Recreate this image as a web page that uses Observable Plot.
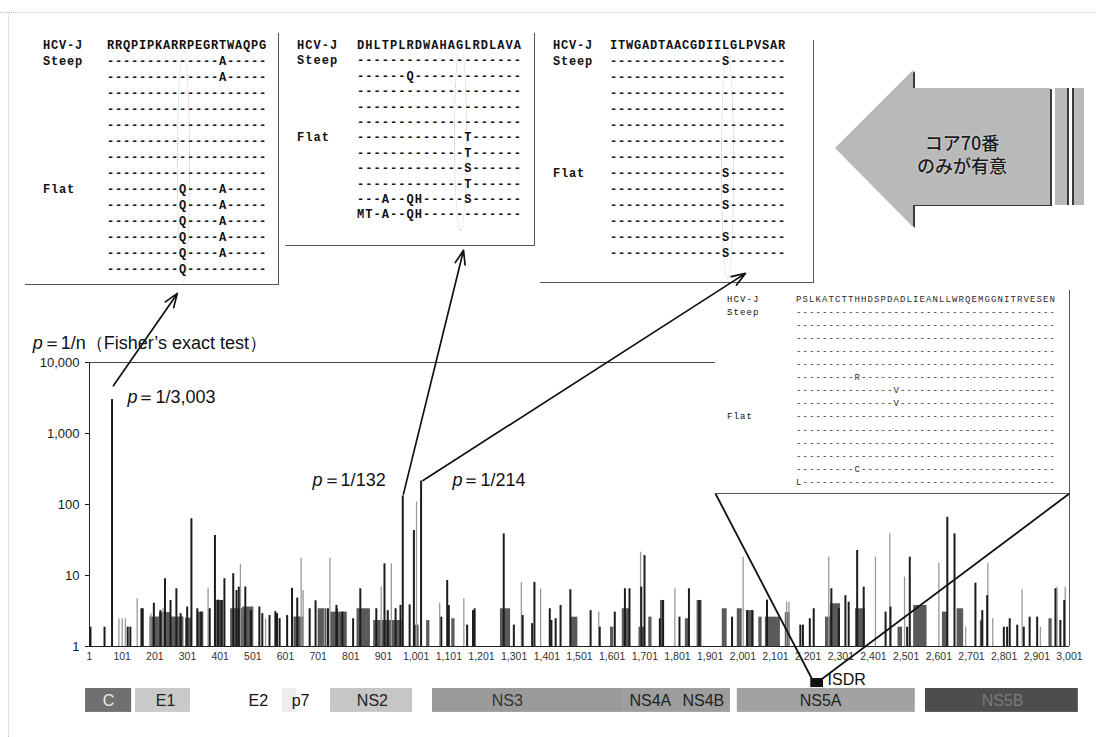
<!DOCTYPE html>
<html><head><meta charset="utf-8">
<script src="https://cdn.jsdelivr.net/npm/d3@7"></script>
<script src="https://cdn.jsdelivr.net/npm/@observablehq/plot@0.6"></script>
<style>
body{margin:0;background:#fff;}
#wrap{position:relative;width:1096px;height:737px;overflow:hidden;background:#fff;font-family:"Liberation Sans",Arial,sans-serif;}
#wrap > svg{position:absolute;left:0;top:0;z-index:3;}
.ln{position:absolute;background:#555;z-index:1;}
.aln{position:absolute;font-family:"Liberation Mono","DejaVu Sans Mono",monospace;white-space:pre;z-index:1;color:#111;}
.hl{position:absolute;border:1px dotted #bdbdbd;border-radius:50%;z-index:0;}
#bigArrowWrap{position:absolute;left:835px;top:70px;width:215px;height:157px;filter:drop-shadow(2px 1px 0 #3a3a3a);z-index:1;}
#bigArrow{width:100%;height:100%;background:#b9b9b9;clip-path:polygon(0 78px,78px 0,78px 18px,215px 18px,215px 135px,78px 135px,78px 157px);}
.strip{position:absolute;top:88px;height:117px;background:#b9b9b9;z-index:1;}
.arrowText{position:absolute;left:880px;width:164px;line-height:23px;white-space:pre-line;text-align:center;font-family:"Noto Sans CJK JP",sans-serif;font-size:18px;font-weight:500;color:#1a1a1a;z-index:2;text-shadow:0 0 2px #eee;}
</style></head>
<body><div id="wrap"></div>
<script>
// ---------------- data ----------------
// isolated dark bars: [amino-acid position, n  (p = 1/n)]
const darkBars = [[4,1.87],[47,1.87],[70,3003],[118,1.87],[126,1.87],[160,3.4],[164,3.4],[198,4.07],[218,3.2],[232,9.0],[249,4.45],[267,6.5],[280,2.9],[300,3.6],[313,63],[331,3.4],[343,3.05],[369,3.4],[385,36.6],[395,4.5],[405,4.45],[414,9.0],[441,10.6],[451,6.15],[458,6.85],[478,6.9],[495,3.2],[521,3.6],[530,2.9],[552,2.73],[570,3.1],[575,2.9],[583,2.46],[606,2.73],[621,6.6],[637,4.8],[675,3.4],[693,4.4],[731,3.4],[757,3.8],[758,3.4],[775,3.05],[808,2.46],[830,6.5],[879,3.4],[904,14.6],[914,3.2],[938,3.4],[953,3.8],[960,132],[981,3.85],[994,43],[1016,214],[1078,2.59],[1096,8.5],[1101,3.78],[1157,2.0],[1175,3.2],[1180,3.4],[1269,38.6],[1300,2.0],[1327,2.73],[1356,2.1],[1363,8.0],[1410,3.4],[1415,2.32],[1428,2.46],[1443,3.78],[1473,6.3],[1535,3.2],[1563,1.87],[1609,3.05],[1640,6.5],[1654,6.5],[1690,6.85],[1700,19.1],[1747,2.46],[1757,4.45],[1807,2.59],[1836,6.5],[1868,4.45],[1968,2.59],[2014,3.2],[2030,3.2],[2075,4.5],[2177,2.0],[2185,2.0],[2206,2.46],[2218,3.4],[2272,6.5],[2295,3.4],[2315,5.2],[2325,4.2],[2351,22.5],[2371,6.85],[2438,3.05],[2453,3.58],[2504,1.87],[2512,18.1],[2627,66],[2649,38.6],[2713,7.8],[2734,3.2],[2749,5.2],[2800,1.87],[2810,1.87],[2818,2.46],[2841,2.0],[2861,1.87],[2879,2.59],[2902,2.59],[2958,6.5],[2973,2.32],[2985,4.45]];
// light grey bars
const lightBars = [[91,2.46],[101,2.46],[111,2.46],[147,4.69],[189,2.9],[226,3.4],[364,6.6],[463,14.3],[540,2.46],[649,17.5],[655,6.15],[720,3.4],[737,17.5],[894,6.9],[925,14.6],[1002,108],[1073,4.07],[1147,4.69],[1323,8.0],[1382,6.4],[1560,3.05],[1688,21.3],[1793,6.5],[2002,18.1],[2135,4.2],[2142,4.2],[2264,18.1],[2407,18.1],[2451,38.6],[2496,9.5],[2601,14.9],[2683,1.87],[2751,14.9],[2766,2.46],[2856,6.3],[2912,1.87],[2963,6.85],[2988,6.85]];
// dense runs of low bars: [from, to, typical n]
const clusters = [[186,215,2.6],[215,250,3.0],[250,290,2.6],[295,315,2.5],[331,351,3.05],[387,412,4.45],[433,470,3.4],[470,504,3.6],[627,657,2.6],[701,728,3.4],[739,790,3.05],[820,861,3.4],[871,958,2.32],[995,1010,2.0],[1033,1043,2.32],[1110,1120,2.46],[1259,1290,3.4],[1476,1496,2.59],[1596,1606,1.87],[1632,1655,3.4],[1683,1700,1.87],[1713,1723,2.59],[1749,1759,4.45],[1825,1839,2.46],[1861,1876,4.45],[1938,1953,3.4],[1984,1999,3.4],[2014,2035,3.2],[2050,2060,2.59],[2070,2116,2.59],[2131,2146,3.0],[2254,2279,2.59],[2269,2300,4.0],[2346,2376,3.4],[2476,2490,1.87],[2524,2565,3.78],[2612,2628,3.05],[2657,2677,3.4],[2728,2738,2.3],[2938,2948,2.46]];

const xTicks = d3.range(1, 3002, 100);
const yTicks = [1, 10, 100, 1000, 10000];

// p-value annotations (data units)
const pLabels = [
  {x: -173, y: 18500, rest: "＝1/n（Fisher’s exact test）"},
  {x: 117, y: 3210, rest: "＝1/3,003"},
  {x: 684, y: 218, rest: "＝1/132"},
  {x: 1112, y: 218, rest: "＝1/214"}
];
// arrows from significant bars to their alignment panels
const links = [
  {x1: 74, y1: 4700, x2: 270, y2: 94000},
  {x1: 962, y1: 140, x2: 1146, y2: 380000},
  {x1: 1022, y1: 218, x2: 2009, y2: 180000}
];
// genome map
const genomeBoxes = [["C",-11,130,"#707070"],["E1",142,310,"#c9c9c9"],["p7",592,635,"#ededed"],["NS2",739,990,"#c6c6c6"],["NS3",1051,1633,"#9a9a9a"],["NS4",1633,1963,"#9d9d9d"],["NS5A",1984,2529,"#a2a2a2"],["NS5B",2560,3028,"#4d4d4d"]];
const genomeLabels = [["C",59,"#ececec"],["E1",234,"#222"],["E2",518,"#111"],["p7",647,"#111"],["NS2",867,"#222"],["NS3",1280,"#333"],["NS4A",1718,"#222"],["NS4B",1880,"#222"],["NS5A",2239,"#222"],["NS5B",2796,"#7a7a7a"]];
const isdrRange = [2209, 2248];
const isdrLinks = [
  {x1: 2212, y1: 0.354, x2: 1917, y2: 143},
  {x1: 2245, y1: 0.354, x2: 3001, y2: 143}
];
const panelEdge = {left: 1917, top: 103000};

// alignments
const coreRows = [["HCV-J","RRQPIPKARRPEGRTWAQPG"],["Steep","--------------A-----"],["","--------------A-----"],["","--------------------"],["","--------------------"],["","--------------------"],["","--------------------"],["","--------------------"],["","--------------------"],["Flat","---------Q----A-----"],["","---------Q----A-----"],["","---------Q----A-----"],["","---------Q----A-----"],["","---------Q----A-----"],["","---------Q----------"]];
const e2Rows = [["HCV-J","DHLTPLRDWAHAGLRDLAVA"],["Steep","--------------------"],["","------Q-------------"],["","--------------------"],["","--------------------"],["","--------------------"],["Flat","-------------T------"],["","-------------T------"],["","-------------S------"],["","-------------T------"],["","---A--QH-----S------"],["","MT-A--QH------------"]];
const ns2Rows = [["HCV-J","ITWGADTAACGDIILGLPVSAR"],["Steep","--------------S-------"],["","----------------------"],["","----------------------"],["","----------------------"],["","----------------------"],["","----------------------"],["","----------------------"],["Flat","--------------S-------"],["","--------------S-------"],["","--------------S-------"],["","----------------------"],["","--------------S-------"],["","--------------S-------"]];
const D40 = "----------------------------------------";
const isdrRows = [["HCV-J","PSLKATCTTHHDSPDADLIEANLLWRQEMGGNITRVESEN"],["Steep",D40],["",D40],["",D40],["",D40],["",D40],["","---------R------------------------------"],["","---------------V------------------------"],["","---------------V------------------------"],["Flat",D40],["",D40],["",D40],["",D40],["","---------C------------------------------"],["","L---------------------------------------"]];
const calloutText = "コア70番\nのみが有意";

// ---------------- plot ----------------
const fmt = d3.format(",");
const chart = Plot.plot({
  width: 1096, height: 737,
  marginLeft: 89, marginRight: 27, marginTop: 362, marginBottom: 91,
  style: {background: "transparent", fontFamily: "Liberation Sans, Arial, sans-serif", fontSize: "10px", color: "#1a1a1a"},
  x: {domain: [1, 3001]},
  y: {type: "log", domain: [1, 10000]},
  marks: [
    Plot.rect(clusters, {x1: d => d[0], x2: d => d[1], y1: 1, y2: d => d[2], fill: "#5a5a5a"}),
    Plot.ruleX(lightBars, {x: d => d[0], y1: 1, y2: d => d[1], stroke: "#9a9a9a", strokeWidth: 1.3}),
    Plot.ruleX(darkBars, {x: d => d[0], y1: 1, y2: d => d[1], stroke: "#1c1c1c", strokeWidth: 2}),
    Plot.ruleY([1], {stroke: "#222"}),
    Plot.ruleX([1], {y1: 1, y2: 10000, stroke: "#222"}),
    Plot.ruleY([10000], {x1: 1, x2: panelEdge.left, stroke: "#444"}),
    Plot.ruleX([3001], {y1: 1, y2: panelEdge.top, stroke: "#555"}),
    Plot.axisY({ticks: yTicks, tickFormat: fmt, tickSize: 4, tickPadding: 6, fontSize: 13, label: null}),
    Plot.axisX({ticks: xTicks, tickFormat: fmt, tickSize: 0, tickPadding: 6, fontSize: 10.5, label: null, fill: "#333"}),
    // genome map
    Plot.rect(genomeBoxes, {x1: d => d[1], x2: d => d[2], y1: 0.118, y2: 0.256, fill: d => d[3]}),
    Plot.text(genomeLabels, {x: d => d[1], y: 0.172, text: d => d[0], fill: d => d[2], fontSize: 16}),
    Plot.rect([isdrRange], {x1: d => d[0], x2: d => d[1], y1: 0.264, y2: 0.354, fill: "#111"}),
    Plot.text(["ISDR"], {x: isdrRange[1], y: 0.343, text: d => d, dx: 4, textAnchor: "start", fontSize: 16, fill: "#111"}),
    Plot.link(isdrLinks, {x1: "x1", y1: "y1", x2: "x2", y2: "y2", stroke: "#111", strokeWidth: 1.8}),
    Plot.ruleY([143], {x1: panelEdge.left, x2: 3001, stroke: "#555"}),
    Plot.arrow(links, {x1: "x1", y1: "y1", x2: "x2", y2: "y2", stroke: "#111", strokeWidth: 1.7, headLength: 13, headAngle: 40}),
    Plot.text(pLabels, {x: "x", y: "y", text: () => "p", fontStyle: "italic", fontSize: 18, textAnchor: "start", fill: "#111"}),
    Plot.text(pLabels, {x: "x", y: "y", text: "rest", dx: 10, fontSize: 18, textAnchor: "start", fill: "#111"})
  ]
});
const wrap = document.getElementById("wrap");
wrap.appendChild(chart);

// ---------------- alignment panels ----------------
function addDiv(cls, css, txt) {
  const d = document.createElement("div");
  d.className = cls;
  Object.assign(d.style, css);
  if (txt !== undefined) d.textContent = txt;
  wrap.appendChild(d);
  return d;
}
function panel(rows, o) {
  rows.forEach((r, i) => {
    const top = (o.top + o.step * i - o.size / 2) + "px";
    const base = {fontSize: o.size + "px", lineHeight: o.size + "px", fontWeight: o.weight, letterSpacing: o.ls + "px", top};
    if (r[0]) addDiv("aln", Object.assign({left: o.labelX + "px"}, base), r[0]);
    addDiv("aln", Object.assign({left: o.seqX + "px", color: o.color || "#111"}, base), r[1]);
  });
  if (o.right) addDiv("ln", {left: o.right[0] + "px", top: o.right[1] + "px", width: "1px", height: (o.right[2] - o.right[1]) + "px"});
  addDiv("ln", {left: o.bottom[0] + "px", top: o.bottom[2] + "px", width: (o.bottom[1] - o.bottom[0]) + "px", height: "1px"});
  if (o.hl) addDiv("hl", {left: o.hl[0] + "px", top: o.hl[1] + "px", width: o.hl[2] + "px", height: o.hl[3] + "px"});
}
panel(coreRows, {labelX: 43, seqX: 107, top: 46, step: 16, size: 12, weight: "bold", ls: 0.8, right: [278, 33, 284], bottom: [25, 279, 284], hl: [177, 50, 11, 230]});
panel(e2Rows, {labelX: 297, seqX: 357, top: 46, step: 15.4, size: 12, weight: "bold", ls: 1.05, right: [534, 33, 245], bottom: [285, 535, 245], hl: [454, 44, 11, 185]});
panel(ns2Rows, {labelX: 553, seqX: 610, top: 46, step: 16, size: 12, weight: "bold", ls: 0.8, right: [813, 40, 282], bottom: [540, 814, 282], hl: [721, 50, 11, 228]});
panel(isdrRows, {labelX: 727, seqX: 796, top: 300, step: 13.1, size: 9, weight: "normal", ls: 1.1, color: "#2a2a2a", bottom: [715, 715, 493]});

// ---------------- big arrow callout ----------------
const aw = addDiv("", {}); aw.id = "bigArrowWrap";
const ai = document.createElement("div"); ai.id = "bigArrow"; aw.appendChild(ai);
addDiv("strip", {left: "1055px", width: "12px", borderRight: "2px solid #3a3a3a"});
addDiv("strip", {left: "1072px", width: "10px", borderLeft: "2px solid #3a3a3a"});
addDiv("arrowText", {top: "131px"}, calloutText);

// page border of the scan
addDiv("", {position: "absolute", left: "0", top: "12px", width: "1096px", height: "0", borderTop: "1px dotted #c4c4c4"});
addDiv("", {position: "absolute", left: "8px", top: "12px", width: "0", height: "725px", borderLeft: "1px dotted #c4c4c4"});
</script>
</body></html>
